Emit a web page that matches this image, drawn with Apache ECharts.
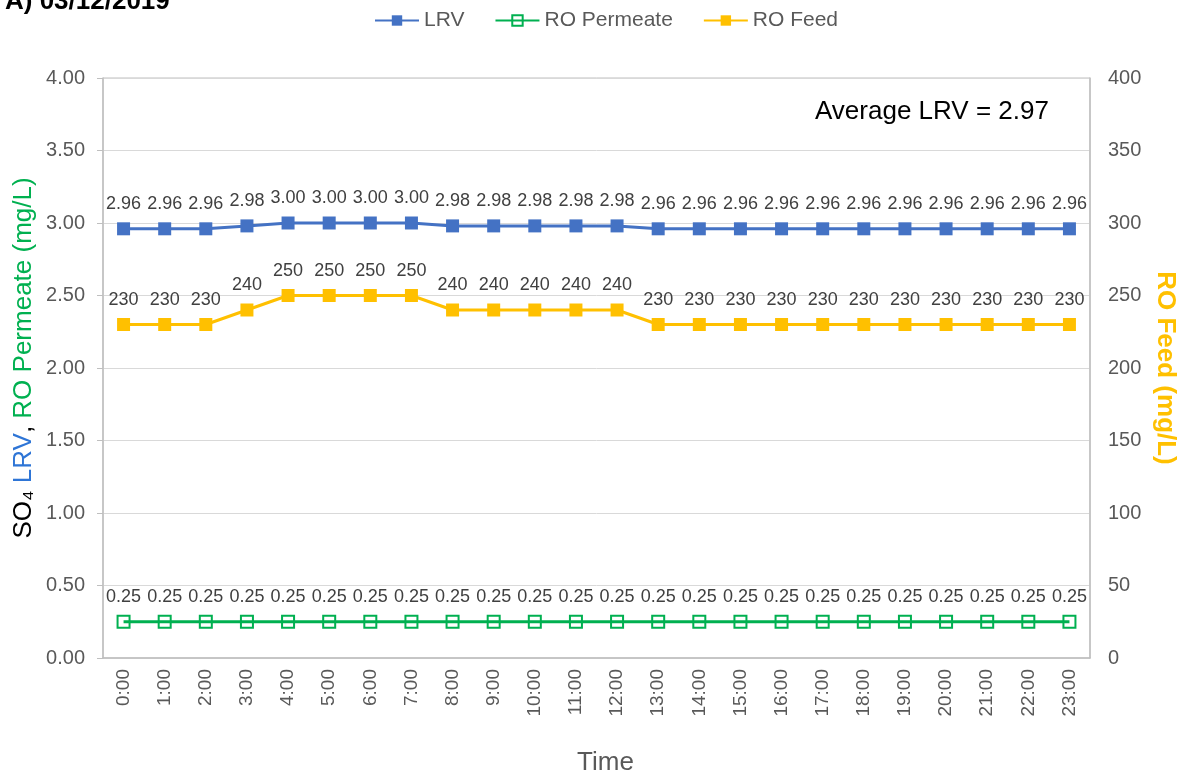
<!DOCTYPE html>
<html>
<head>
<meta charset="utf-8">
<script src="https://cdn.jsdelivr.net/npm/echarts@6/dist/echarts.min.js"></script>
<style>
    html,body{margin:0;padding:0;background:#fff;}
    #chart{width:1187px;height:775px;}
</style>
</head>
<body>
<div id="chart"></div>
<script>
    // hourly samples, 03/12/2019
    var hours = ['0:00','1:00','2:00','3:00','4:00','5:00','6:00','7:00','8:00','9:00','10:00','11:00',
                 '12:00','13:00','14:00','15:00','16:00','17:00','18:00','19:00','20:00','21:00','22:00','23:00'];
    var lrv = [2.96,2.96,2.96,2.98,3.00,3.00,3.00,3.00,2.98,2.98,2.98,2.98,
               2.98,2.96,2.96,2.96,2.96,2.96,2.96,2.96,2.96,2.96,2.96,2.96];
    var roPermeate = [0.25,0.25,0.25,0.25,0.25,0.25,0.25,0.25,0.25,0.25,0.25,0.25,
                      0.25,0.25,0.25,0.25,0.25,0.25,0.25,0.25,0.25,0.25,0.25,0.25];
    var roFeed = [230,230,230,240,250,250,250,250,240,240,240,240,
                  240,230,230,230,230,230,230,230,230,230,230,230];
    var averageLrv = 2.97;

    var FONT = '"Liberation Sans", Arial, sans-serif';
    var BLUE = '#4472C4', GREEN = '#00B050', GOLD = '#FFC000';
    var GRAY_TXT = '#595959', LABEL_TXT = '#404040', LINE_GRAY = '#BFBFBF';

    var chart = echarts.init(document.getElementById('chart'));

    function dataLabel(fmt){
        return {
            show: true,
            position: 'top',
            distance: 9,
            color: LABEL_TXT,
            fontSize: 18,
            fontFamily: FONT,
            formatter: fmt
        };
    }

    var option = {
        animation: false,
        textStyle: {fontFamily: FONT},
        legend: {
            top: 5,
            left: 369,
            itemWidth: 44,
            itemHeight: 13,
            itemGap: 30,
            textStyle: {fontSize: 21, color: GRAY_TXT, fontFamily: FONT},
            data: ['LRV', 'RO Permeate', 'RO Feed']
        },
        graphic: [
            {
                type: 'text', left: 5, top: -11,
                style: {text: 'A) 03/12/2019', font: 'bold 26px ' + FONT, fill: '#000'}
            },
            {
                type: 'text', left: 815, top: 99,
                style: {text: 'Average LRV = ' + averageLrv.toFixed(2), font: '26px ' + FONT, fill: '#000'}
            }
        ],
        grid: {
            left: 103, right: 97, top: 78, bottom: 117,
            outerBoundsMode: 'none',
            show: true, borderColor: LINE_GRAY, borderWidth: 1
        },
        xAxis: {
            type: 'category',
            data: hours,
            boundaryGap: true,
            axisLine: {lineStyle: {color: LINE_GRAY, width: 1.5}},
            axisTick: {show: false},
            axisLabel: {rotate: 90, interval: 0, margin: 11, fontSize: 19, color: GRAY_TXT, fontFamily: FONT},
            name: 'Time',
            nameLocation: 'middle',
            nameGap: 92,
            nameMoveOverlap: false,
            nameTextStyle: {fontSize: 26, color: GRAY_TXT, fontFamily: FONT, verticalAlign: 'top', padding: [0, 0, 0, 18]}
        },
        yAxis: [
            {
                type: 'value',
                min: 0, max: 4, interval: 0.5,
                axisLine: {show: true, lineStyle: {color: LINE_GRAY, width: 1.5}},
                axisTick: {show: true, inside: false, length: 6, lineStyle: {color: LINE_GRAY}},
                splitLine: {lineStyle: {color: '#D9D9D9', width: 1}},
                axisLabel: {
                    fontSize: 20, color: GRAY_TXT, fontFamily: FONT, margin: 18,
                    formatter: function(v){ return v.toFixed(2); }
                },
                name: '{k|SO₄ }{b|LRV}{k|, }{g|RO Permeate (mg/L)}',
                nameLocation: 'middle',
                nameGap: 66,
                nameMoveOverlap: false,
                nameTextStyle: {
                    padding: [0, 0, 0, 20],
                    rich: {
                        k: {fontSize: 26, color: '#000', fontFamily: FONT},
                        b: {fontSize: 26, color: '#2E75D6', fontFamily: FONT},
                        g: {fontSize: 26, color: GREEN, fontFamily: FONT}
                    }
                }
            },
            {
                type: 'value',
                position: 'right',
                min: 0, max: 400, interval: 50,
                axisLine: {show: true, lineStyle: {color: LINE_GRAY, width: 1.5}},
                axisTick: {show: false},
                splitLine: {show: false},
                axisLabel: {fontSize: 20, color: GRAY_TXT, fontFamily: FONT, margin: 18},
                name: 'RO Feed (mg/L)',
                nameLocation: 'middle',
                nameRotate: -90,
                nameGap: 62,
                nameMoveOverlap: false,
                nameTextStyle: {fontSize: 26, color: GOLD, fontWeight: 'bold', fontFamily: FONT}
            }
        ],
        series: [
            {
                name: 'LRV',
                type: 'line',
                yAxisIndex: 0,
                data: lrv,
                symbol: 'rect',
                symbolSize: 13,
                itemStyle: {color: BLUE},
                lineStyle: {color: BLUE, width: 3},
                label: dataLabel(function(p){ return p.value.toFixed(2); }),
                z: 3
            },
            {
                name: 'RO Permeate',
                type: 'line',
                yAxisIndex: 0,
                data: roPermeate,
                symbol: 'rect',
                symbolSize: 12,
                showAllSymbol: true,
                itemStyle: {color: 'rgba(0,0,0,0)', borderColor: GREEN, borderWidth: 2},
                lineStyle: {color: GREEN, width: 3},
                label: dataLabel(function(p){ return p.value.toFixed(2); }),
                z: 2
            },
            {
                name: 'RO Feed',
                type: 'line',
                yAxisIndex: 1,
                data: roFeed,
                symbol: 'rect',
                symbolSize: 13,
                itemStyle: {color: GOLD},
                lineStyle: {color: GOLD, width: 3},
                label: dataLabel(function(p){ return String(p.value); }),
                z: 2
            }
        ]
    };

    chart.setOption(option);
    window.addEventListener('resize', chart.resize);
</script>
</body>
</html>
